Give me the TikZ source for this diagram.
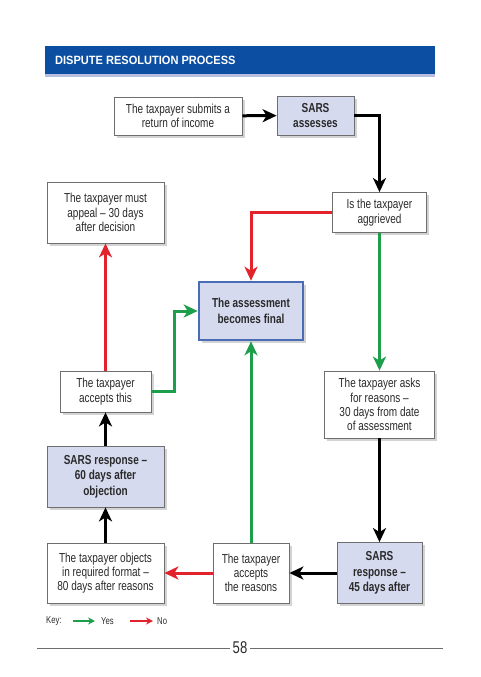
\documentclass[tikz,border=0pt]{standalone}
\usepackage{fontspec}
\setmainfont[FakeStretch=0.77]{Liberation Sans}
\newfontfamily\titlefont[FakeStretch=0.92]{Liberation Sans}
\usepackage{tikz}
\usetikzlibrary{positioning, arrows.meta, shadows, calc}
\definecolor{barblue}{HTML}{0B4EA2}
\definecolor{barline}{HTML}{B9BEE0}
\definecolor{lilac}{HTML}{D6DAEF}
\definecolor{frameblue}{HTML}{4A6CB5}
\definecolor{ink}{HTML}{2A2A2A}
\definecolor{boxline}{HTML}{6E6E6E}
\definecolor{yesgreen}{HTML}{1C9E4B}
\definecolor{nored}{HTML}{E2232B}

\begin{document}
\begin{tikzpicture}[x=1pt, y=-1pt,
  box/.style={draw=boxline, fill=white, line width=0.8pt, align=center, inner sep=0pt,
              text=ink, font=\fontsize{13}{14.3}\selectfont,
              drop shadow={shadow xshift=2.5pt, shadow yshift=-2.5pt, opacity=0.35}},
  sarsbox/.style={box, fill=lilac, font=\bfseries\fontsize{13}{15.5}\selectfont},
  link/.style={line width=3pt, -{Stealth[length=14pt, width=13pt, inset=4pt]}},
  keylink/.style={line width=1.8pt, -{Stealth[length=7pt, width=7pt]}},
  keytext/.style={anchor=west, text=ink, inner sep=0pt, font=\fontsize{10}{12}\selectfont}]
  \useasboundingbox (0,0) rectangle (480,677);
  % title bar
  \fill[barblue] (45,46) rectangle (435,74);
  \fill[barline] (45,74) rectangle (435,77);
  \node[anchor=west, text=white, inner sep=0pt, font=\titlefont\bfseries\fontsize{12}{14}\selectfont] (title) at (55,60) {DISPUTE RESOLUTION PROCESS};
  % boxes
  \node[box, minimum width=128pt, minimum height=38pt] (submit) at (178,116) {The taxpayer submits a\\return of income};
  \node[sarsbox, minimum width=77pt, minimum height=39pt] (assess) at (315.5,115.5) {SARS\\assesses};
  \node[box, minimum width=94pt, minimum height=40pt] (aggr) at (379.5,212.5) {Is the taxpayer\\aggrieved};
  \node[box, minimum width=117pt, minimum height=61pt] (appeal) at (105.5,212.5) {The taxpayer must\\appeal -- 30 days\\after decision};
  \node[sarsbox, draw=frameblue, line width=2.6pt, minimum width=104pt, minimum height=58pt] (final) at (251,311) {The assessment\\becomes final};
  \node[box, minimum width=91pt, minimum height=41pt] (acc) at (105.5,391.5) {The taxpayer\\accepts this};
  \node[box, minimum width=110pt, minimum height=67pt] (asks) at (379.5,404.5) {The taxpayer asks\\for reasons --\\30 days from date\\of assessment};
  \node[sarsbox, minimum width=117pt, minimum height=61pt] (resp60) at (105.5,476.5) {SARS response --\\60 days after\\objection};
  \node[box, minimum width=117pt, minimum height=60pt] (objects) at (105.5,573) {The taxpayer objects\\in required format --\\80 days after reasons};
  \node[box, minimum width=76pt, minimum height=60pt] (accr) at (251,573) {The taxpayer\\accepts\\the reasons};
  \node[sarsbox, minimum width=85pt, minimum height=61pt] (resp45) at (379.5,573) {SARS\\response --\\45 days after};
  % connectors
  \draw[link] (submit) -- (assess);
  \draw[link] (assess.east) -| (aggr.north);
  \draw[link, nored] (aggr.west) -| (final.north);
  \draw[link, yesgreen] (aggr.south) -- (asks.north);
  \draw[link] (asks.south) -- (resp45.north);
  \draw[link] (resp45) -- (accr);
  \draw[link, nored] (accr) -- (objects);
  \draw[link, yesgreen] (accr.north) -- (final.south);
  \draw[link] (objects.north) -- (resp60.south);
  \draw[link] (resp60.north) -- (acc.south);
  \draw[link, nored] (acc.north) -- (appeal.south);
  \coordinate (gbend) at (174,311);
  \draw[link, yesgreen] (acc.east) -| (gbend) -- (final.west);
  % key
  \node[keytext] (key) at (46,621) {Key:};
  \coordinate (yesfrom) at (73,621);
  \coordinate (yesto) at (95,621);
  \draw[keylink, yesgreen] (yesfrom) -- (yesto);
  \node[keytext] (yes) at (101,621) {Yes};
  \coordinate (nofrom) at (130,621);
  \coordinate (noto) at (153,621);
  \draw[keylink, nored] (nofrom) -- (noto);
  \node[keytext] (no) at (157,621) {No};
  % page number
  \node[text=ink, font=\fontsize{17}{19}\selectfont, inner sep=3pt] (page) at (240,648) {58};
  \draw[boxline, line width=0.8pt] (37,648) -- (page.west);
  \draw[boxline, line width=0.8pt] (page.east) -- (443,648);
\end{tikzpicture}
\end{document}
